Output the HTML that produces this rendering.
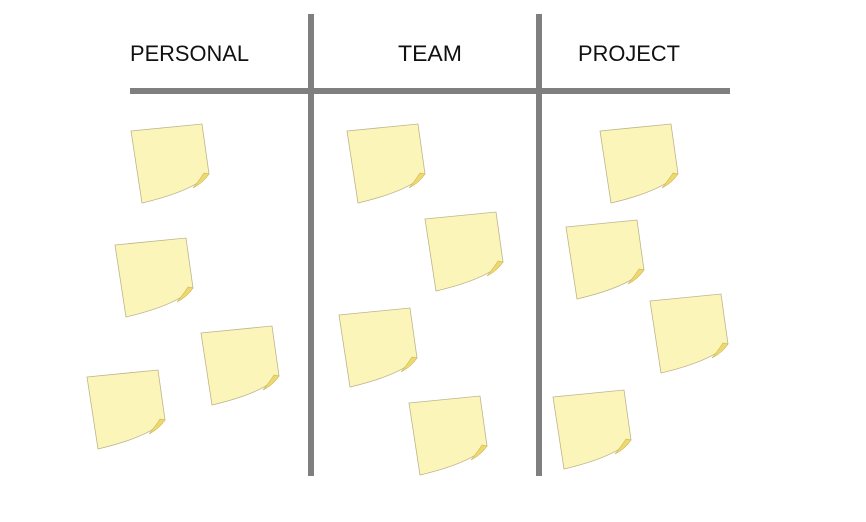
<!DOCTYPE html>
<html><head><style>body{margin:0;background:#fff}svg{display:block}</style></head>
<body>
<svg width="866" height="522" viewBox="0 0 866 522" xmlns="http://www.w3.org/2000/svg">
<defs>
<g id="n">
<path d="M0,0 L71,-7 L78,43 Q62,60 11,72 Z" fill="#fcf5b9" stroke="#bdb48a" stroke-width="0.8"/>
<path d="M78,43 Q72,52 62,57 Q70,47 73,42 Z" fill="#efd96c" stroke="#c8b45a" stroke-width="0.6"/>
</g>
</defs>
<g fill="#7f7f7f">
<rect x="308" y="14" width="6" height="462"/>
<rect x="536" y="14" width="6" height="462"/>
<rect x="130" y="88" width="600" height="6"/>
</g>
<g font-family="Liberation Sans, sans-serif" font-size="22" fill="#111">
<text x="130" y="61" textLength="119" lengthAdjust="spacingAndGlyphs">PERSONAL</text>
<text x="398" y="61" textLength="64" lengthAdjust="spacingAndGlyphs">TEAM</text>
<text x="578" y="61" textLength="102" lengthAdjust="spacingAndGlyphs">PROJECT</text>
</g>
<use href="#n" x="131" y="131"/>
<use href="#n" x="347" y="131"/>
<use href="#n" x="600" y="131"/>
<use href="#n" x="115" y="245"/>
<use href="#n" x="425" y="219"/>
<use href="#n" x="566" y="227"/>
<use href="#n" x="201" y="333"/>
<use href="#n" x="339" y="315"/>
<use href="#n" x="650" y="301"/>
<use href="#n" x="87" y="377"/>
<use href="#n" x="409" y="403"/>
<use href="#n" x="553" y="397"/>
</svg>
</body></html>
